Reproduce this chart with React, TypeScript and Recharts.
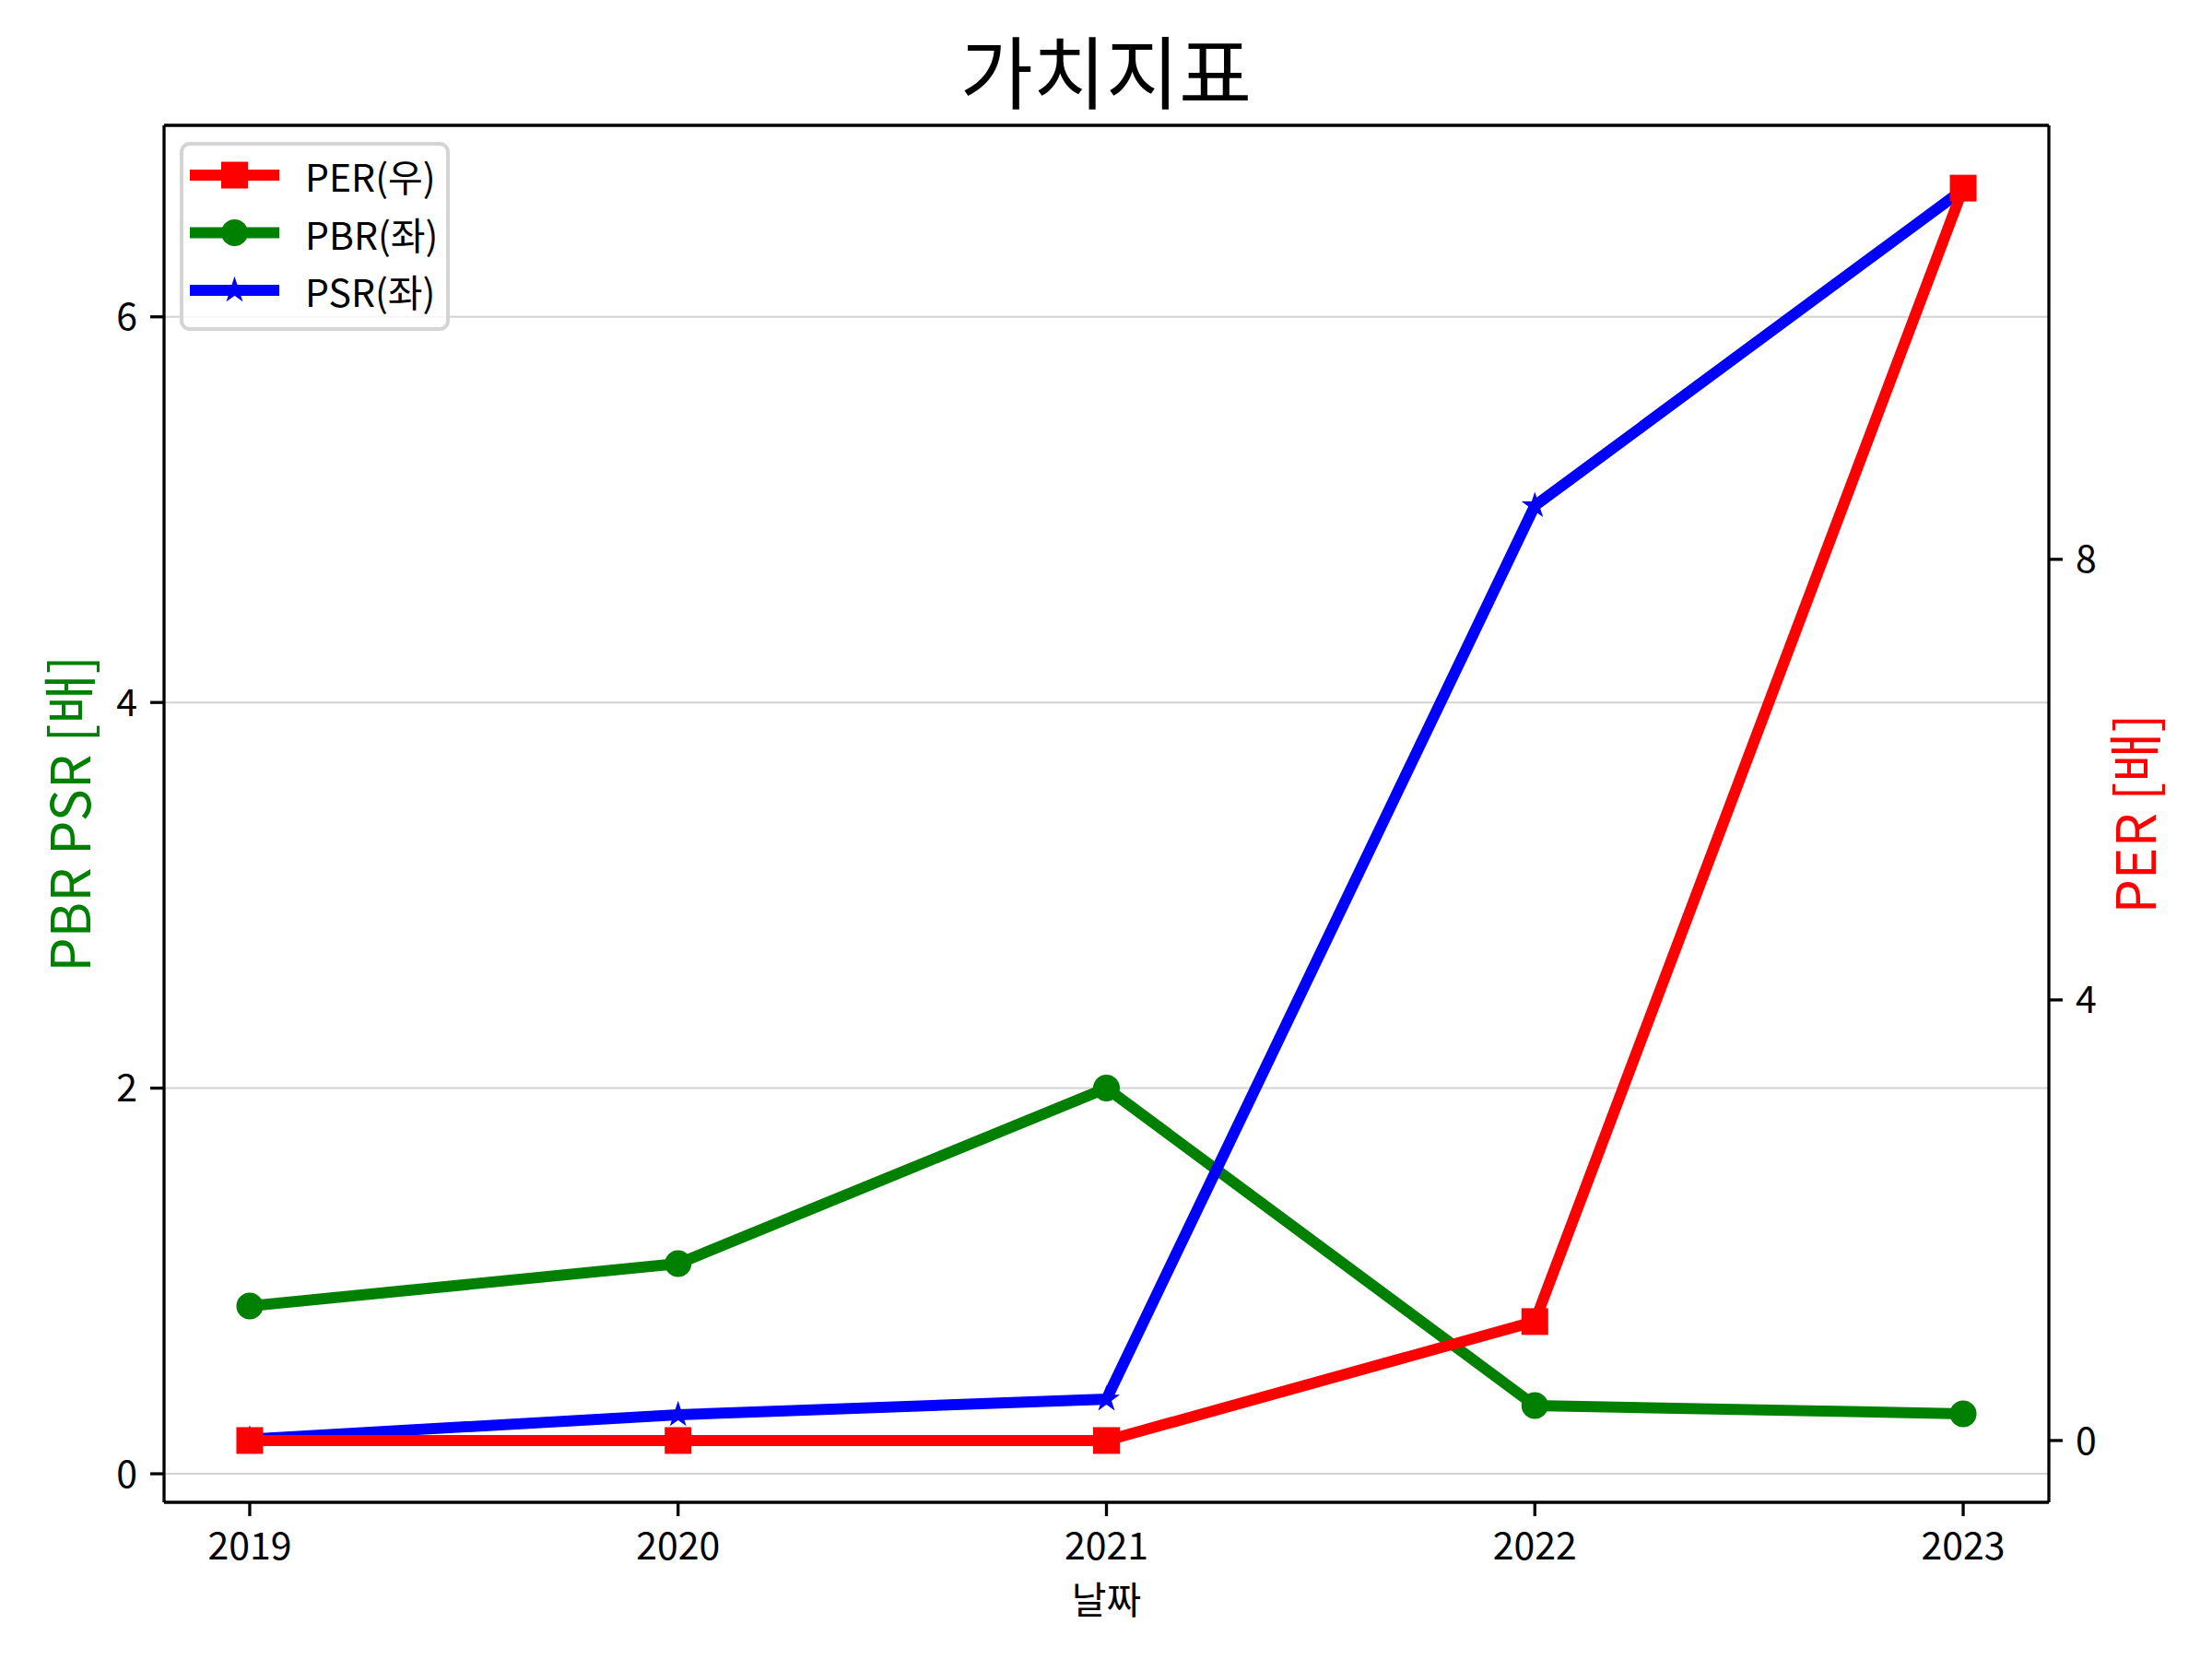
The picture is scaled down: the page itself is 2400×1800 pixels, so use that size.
import React from 'react'
import { LineChart, Line, XAxis, YAxis, CartesianGrid, Legend, ReferenceLine } from 'recharts'

// 가치지표 data
const years = [2019, 2020, 2021, 2022, 2023]
const perValues = [0, 0, 0, 1.08, 11.37]
const pbrValues = [0.87, 1.09, 2.0, 0.354, 0.311]
const psrValues = [0.18, 0.306, 0.387, 5.02, 6.66]
const leftTicks = [0, 2, 4, 6]
const rightTicks = [0, 4, 8]
const seriesNames = ['PER(우)', 'PBR(좌)', 'PSR(좌)']

const data = years.map((year, i) => ({
  year,
  PER: perValues[i],
  PBR: pbrValues[i],
  PSR: psrValues[i],
}))

const FONT = '"Noto Sans CJK KR", "Noto Sans", sans-serif'
const RED = '#ff0000'
const GREEN = '#008000'
const BLUE = '#0000ff'
const MARK = 29
const LEFT_DOMAIN = [-0.148, 6.993]

const starPoints = (cx: number, cy: number, r: number) => {
  const pts: string[] = []
  for (let k = 0; k < 10; k++) {
    const rad = k % 2 === 0 ? r : r * 0.382
    const a = -Math.PI / 2 + (k * Math.PI) / 5
    pts.push(`${cx + rad * Math.cos(a)},${cy + rad * Math.sin(a)}`)
  }
  return pts.join(' ')
}

const Square = ({ cx, cy, fill }: any) => (
  <rect x={cx - MARK / 2} y={cy - MARK / 2} width={MARK} height={MARK} fill={fill} />
)
const Dot = ({ cx, cy, fill }: any) => <circle cx={cx} cy={cy} r={MARK / 2} fill={fill} />
const Star = ({ cx, cy, fill }: any) => (
  <polygon points={starPoints(cx, cy, 12)} fill={fill} stroke={fill} strokeWidth={2} />
)

const markers: Record<string, any> = { PER: Square, PBR: Dot, PSR: Star }
const colors: Record<string, string> = { PER: RED, PBR: GREEN, PSR: BLUE }

const LegendBox = () => {
  const keys = ['PER', 'PBR', 'PSR']
  return (
    <svg width={295} height={207} style={{ display: 'block' }}>
      <rect x={2} y={2} width={289} height={201} rx={9} fill="rgba(255,255,255,0.8)" stroke="#d4d4d4" strokeWidth={4} />
      {keys.map((k, i) => {
        const y = 36 + i * 62.5
        const M = markers[k]
        return (
          <g key={k}>
            <line x1={11} x2={108} y1={y} y2={y} stroke={colors[k]} strokeWidth={12} />
            <M cx={59.5} cy={y} fill={colors[k]} />
            <text x={136} y={y} dominantBaseline="central" fontSize={41} fontFamily={FONT} fill="#000">
              {seriesNames[i]}
            </text>
          </g>
        )
      })}
    </svg>
  )
}

export default function App() {
  const tickStyle = { fontSize: 41, fill: '#000', fontFamily: FONT }
  const axisLine = { stroke: '#000', strokeWidth: 3.3 }
  const tickLine = { stroke: '#000', strokeWidth: 3.3 }

  return (
    <div style={{ position: 'absolute', left: 0, top: 0, width: 2400, height: 1800, background: '#fff', fontFamily: FONT }}>
      <div
        style={{
          position: 'absolute',
          left: 0,
          top: 0,
          width: 2400,
          textAlign: 'center',
          fontSize: 86,
          lineHeight: '150px',
          color: '#000',
          zIndex: 2,
        }}
      >
        가치지표
      </div>
      <LineChart width={2400} height={1800} data={data} margin={{ top: 136, right: 0, bottom: 0, left: 0 }}>
        <CartesianGrid yAxisId="left" vertical={false} stroke="#d3d3d3" strokeWidth={2} />
        <XAxis
          dataKey="year"
          type="number"
          domain={[2018.8, 2023.2]}
          ticks={years}
          allowDataOverflow
          height={170}
          tick={tickStyle}
          tickSize={15}
          tickMargin={18}
          axisLine={axisLine}
          tickLine={tickLine}
          label={(p: any) => {
            const vb = p.viewBox
            return (
              <text x={vb.x + vb.width / 2} y={vb.y + 103} textAnchor="middle" dominantBaseline="central" fontSize={41} fontFamily={FONT} fill="#000">
                날짜
              </text>
            )
          }}
        />
        <YAxis
          yAxisId="left"
          type="number"
          domain={LEFT_DOMAIN}
          ticks={leftTicks}
          allowDataOverflow
          width={178}
          tick={tickStyle}
          tickSize={15}
          tickMargin={14}
          axisLine={axisLine}
          tickLine={tickLine}
          label={(p: any) => {
            const vb = p.viewBox
            const x = vb.x + 72
            const y = vb.y + vb.height / 2
            return (
              <text x={x} y={y} transform={`rotate(-90, ${x}, ${y})`} textAnchor="middle" dominantBaseline="central" fontSize={59} fontFamily={FONT} fill={GREEN}>
                PBR PSR [배]
              </text>
            )
          }}
        />
        <YAxis
          yAxisId="right"
          orientation="right"
          type="number"
          domain={[-0.561, 11.94]}
          ticks={rightTicks}
          allowDataOverflow
          width={177}
          tick={tickStyle}
          tickSize={15}
          tickMargin={14}
          axisLine={axisLine}
          tickLine={tickLine}
          label={(p: any) => {
            const vb = p.viewBox
            const x = vb.x + 90
            const y = vb.y + vb.height / 2
            return (
              <text x={x} y={y} transform={`rotate(-90, ${x}, ${y})`} textAnchor="middle" dominantBaseline="central" fontSize={59} fontFamily={FONT} fill={RED}>
                PER [배]
              </text>
            )
          }}
        />
        <ReferenceLine yAxisId="left" y={LEFT_DOMAIN[1]} stroke="#000" strokeWidth={3.3} ifOverflow="visible" />
        <Legend
          layout="vertical"
          align="center"
          verticalAlign="middle"
          wrapperStyle={{ left: 195, top: 154, width: 295, height: 207 }}
          content={() => <LegendBox />}
        />
        <Line
          yAxisId="left"
          dataKey="PBR"
          name={seriesNames[1]}
          stroke={GREEN}
          strokeWidth={12}
          isAnimationActive={false}
          activeDot={false}
          dot={(p: any) => <Dot key={`pbr-${p.index}`} cx={p.cx} cy={p.cy} fill={GREEN} />}
        />
        <Line
          yAxisId="left"
          dataKey="PSR"
          name={seriesNames[2]}
          stroke={BLUE}
          strokeWidth={12}
          isAnimationActive={false}
          activeDot={false}
          dot={(p: any) => <Star key={`psr-${p.index}`} cx={p.cx} cy={p.cy} fill={BLUE} />}
        />
        <Line
          yAxisId="right"
          dataKey="PER"
          name={seriesNames[0]}
          stroke={RED}
          strokeWidth={12}
          isAnimationActive={false}
          activeDot={false}
          dot={(p: any) => <Square key={`per-${p.index}`} cx={p.cx} cy={p.cy} fill={RED} />}
        />
      </LineChart>
    </div>
  )
}
